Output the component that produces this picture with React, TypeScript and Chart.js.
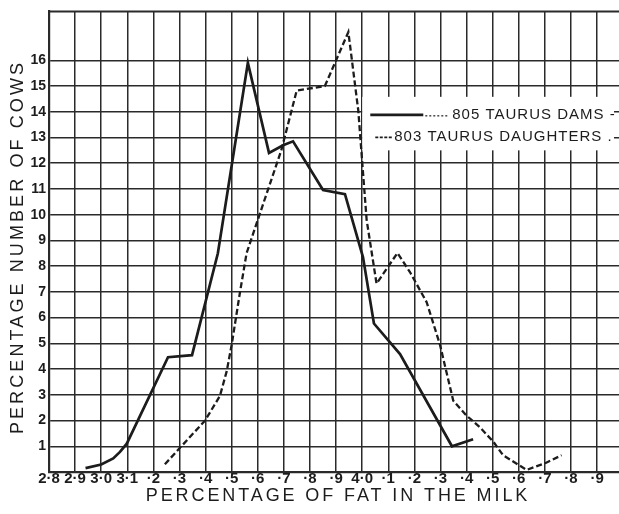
import React, { useEffect, useRef } from 'react';
import { Chart, registerables } from 'chart.js';

Chart.register(...registerables);

const xTickValues = [2.8, 2.9, 3.0, 3.1, 3.2, 3.3, 3.4, 3.5, 3.6, 3.7, 3.8, 3.9, 4.0, 4.1, 4.2, 4.3, 4.4, 4.5, 4.6, 4.7, 4.8, 4.9];
const xTickLabels = ['2·8', '2·9', '3·0', '3·1', '·2', '·3', '·4', '·5', '·6', '·7', '·8', '·9', '4·0', '·1', '·2', '·3', '·4', '·5', '·6', '·7', '·8', '·9'];
const yTickValues = [0, 1, 2, 3, 4, 5, 6, 7, 8, 9, 10, 11, 12, 13, 14, 15, 16, 17, 17.9];
const yTickLabels = [null, '1', '2', '3', '4', '5', '6', '7', '8', '9', '10', '11', '12', '13', '14', '15', '16', null, null];

const damsX = [2.94, 3.0, 3.046, 3.072, 3.098, 3.256, 3.348, 3.447, 3.562, 3.643, 3.697, 3.735, 3.85, 3.934, 4.003, 4.045, 4.145, 4.344, 4.425];
const damsY = [0.15, 0.29, 0.53, 0.78, 1.1, 4.46, 4.54, 8.5, 15.9, 12.4, 12.7, 12.85, 10.96, 10.8, 8.35, 5.77, 4.58, 1.0, 1.27];

const daughtersX = [3.244, 3.3, 3.398, 3.455, 3.481, 3.5, 3.532, 3.557, 3.6, 3.69, 3.749, 3.857, 3.947, 3.985, 4.017, 4.055, 4.135, 4.183, 4.247, 4.298, 4.349, 4.4, 4.451, 4.503, 4.54, 4.63, 4.705, 4.764];
const daughtersY = [0.3, 0.92, 2.0, 2.96, 3.92, 4.95, 7.0, 8.5, 9.8, 12.5, 14.82, 15.0, 17.1, 14.05, 9.8, 7.32, 8.51, 7.77, 6.6, 4.95, 2.77, 2.19, 1.74, 1.17, 0.65, 0.08, 0.36, 0.65];

const seriesLabels = ['805 TAURUS DAMS -', '803 TAURUS DAUGHTERS .'];
const xTitle = 'PERCENTAGE OF FAT IN THE MILK';
const yTitle = 'PERCENTAGE NUMBER OF COWS';

const INK = '#1c1c1c';
const GRID = '#2a2a2a';
const FONT = '"Liberation Sans", Arial, Helvetica, sans-serif';

const decorPlugin = {
  id: 'decor',
  beforeDatasetsDraw(chart: any) {
    const { ctx, scales, chartArea } = chart;
    const xs = scales.x;
    const ys = scales.y;
    const bx1 = xs.getPixelForValue(4.031);
    const by1 = ys.getPixelForValue(14.58);
    const by2 = ys.getPixelForValue(12.5);
    ctx.save();
    ctx.fillStyle = '#ffffff';
    ctx.fillRect(bx1 - 8, by1, chartArea.right - 5 - (bx1 - 8), by2 - by1);
    const r1 = ys.getPixelForValue(13.88);
    const r2 = ys.getPixelForValue(13.04);
    ctx.strokeStyle = INK;
    ctx.lineWidth = 2.8;
    ctx.setLineDash([]);
    ctx.beginPath();
    ctx.moveTo(bx1, r1);
    ctx.lineTo(bx1 + 53, r1);
    ctx.stroke();
    ctx.lineWidth = 1.2;
    ctx.setLineDash([2, 2]);
    ctx.beginPath();
    ctx.moveTo(bx1 + 55, r1 + 1);
    ctx.lineTo(bx1 + 77, r1 + 1);
    ctx.stroke();
    ctx.lineWidth = 1.8;
    ctx.setLineDash([3, 1.5]);
    ctx.beginPath();
    ctx.moveTo(bx1 + 5, r2 + 1);
    ctx.lineTo(bx1 + 23, r2 + 1);
    ctx.stroke();
    ctx.setLineDash([]);
    ctx.fillStyle = INK;
    ctx.font = '15px ' + FONT;
    (ctx as any).letterSpacing = '1px';
    ctx.textAlign = 'left';
    ctx.textBaseline = 'middle';
    ctx.fillText(seriesLabels[0], bx1 + 82, r1);
    ctx.fillText(seriesLabels[1], bx1 + 24, r2);
    ctx.restore();
  },
  afterDraw(chart: any) {
    const { ctx, chartArea } = chart;
    ctx.save();
    ctx.fillStyle = INK;
    ctx.font = '18px ' + FONT;
    (ctx as any).letterSpacing = '2.9px';
    ctx.textAlign = 'center';
    ctx.textBaseline = 'middle';
    ctx.fillText(xTitle, 338, 496);
    (ctx as any).letterSpacing = '3.1px';
    ctx.translate(18, 247);
    ctx.rotate(-Math.PI / 2);
    ctx.fillText(yTitle, 0, 0);
    ctx.restore();
    ctx.save();
    ctx.strokeStyle = GRID;
    ctx.lineWidth = 2;
    ctx.beginPath();
    ctx.moveTo(chartArea.left, chartArea.top);
    ctx.lineTo(chartArea.right, chartArea.top);
    ctx.stroke();
    ctx.restore();
  },
};

export default function App() {
  const canvasRef = useRef<HTMLCanvasElement | null>(null);

  useEffect(() => {
    document.body.style.margin = '0';
    const canvas = canvasRef.current;
    if (!canvas) return;
    const chart = new Chart(canvas, {
      type: 'line',
      data: {
        datasets: [
          {
            label: seriesLabels[0],
            data: damsX.map((x, i) => ({ x, y: damsY[i] })),
            borderColor: INK,
            borderWidth: 2.7,
            pointRadius: 0,
            tension: 0,
            fill: false,
          },
          {
            label: seriesLabels[1],
            data: daughtersX.map((x, i) => ({ x, y: daughtersY[i] })),
            borderColor: INK,
            borderWidth: 2.3,
            borderDash: [6, 3],
            pointRadius: 0,
            tension: 0,
            fill: false,
          },
        ],
      },
      options: {
        responsive: false,
        animation: false,
        devicePixelRatio: 1,
        layout: { padding: { top: 6, right: 0, left: 0, bottom: 0 } },
        plugins: {
          legend: { display: false },
          tooltip: { enabled: false },
          title: { display: false },
        },
        scales: {
          x: {
            type: 'linear',
            min: 2.8,
            max: 4.984,
            afterBuildTicks: (axis: any) => {
              axis.ticks = xTickValues.map((v) => ({ value: v }));
            },
            afterFit: (s: any) => {
              s.height = 42;
            },
            grid: { color: GRID, lineWidth: 1.5, drawTicks: false },
            border: { color: GRID, width: 2.2 },
            ticks: {
              autoSkip: false,
              maxRotation: 0,
              minRotation: 0,
              padding: -2,
              color: INK,
              font: { family: FONT, size: 15, weight: 'bold' },
              callback: (_v: any, i: number) => xTickLabels[i],
            },
          },
          y: {
            type: 'linear',
            min: 0,
            max: 17.9,
            afterBuildTicks: (axis: any) => {
              axis.ticks = yTickValues.map((v) => ({ value: v }));
            },
            afterFit: (s: any) => {
              s.width = 49;
            },
            grid: { color: GRID, lineWidth: 1.5, drawTicks: false },
            border: { color: GRID, width: 2.2 },
            ticks: {
              autoSkip: false,
              padding: 3,
              color: INK,
              font: { family: FONT, size: 14, weight: 'bold' },
              callback: (_v: any, i: number) => yTickLabels[i],
            },
          },
        },
      },
      plugins: [decorPlugin],
    } as any);
    return () => chart.destroy();
  }, []);

  return (
    <div style={{ width: 619, height: 514, background: '#fff' }}>
      <canvas ref={canvasRef} width={619} height={514} />
    </div>
  );
}
